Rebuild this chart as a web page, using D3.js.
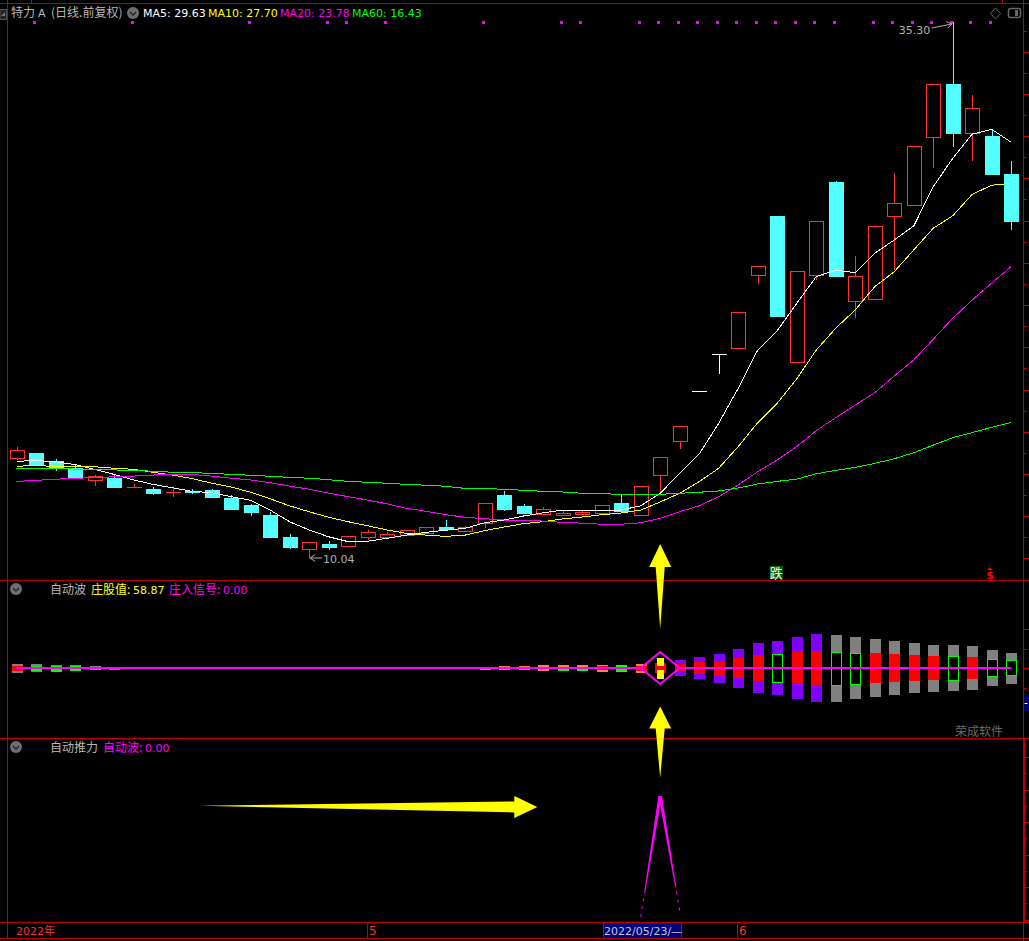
<!DOCTYPE html>
<html>
<head>
<meta charset="utf-8">
<style>
	html, body { margin: 0; padding: 0; background: #000; overflow: hidden; }
	text { font-family: "DejaVu Sans", "Noto Sans CJK SC", sans-serif; font-size: 11px; }
	.cjk { font-family: "Noto Sans CJK SC", sans-serif; font-size: 12px; }
</style>
<script src="https://cdn.jsdelivr.net/npm/d3@7"></script>
</head>
<body>
<div id="chart"></div>
<script>
// candles, index 0 = first trading day shown
const opens = [14.77,14.99,14.61,14.28,13.72,13.81,13.37,13.29,13.16,13.21,13.24,12.87,12.54,12.07,11.03,10.48,10.70,10.62,11.03,11.04,11.14,11.20,11.49,11.33,11.70,13.01,12.49,12.13,12.07,12.11,12.17,12.63,12.08,13.97,15.54,17.91,19.64,19.95,23.39,26.16,19.26,23.39,27.76,22.17,22.26,26.17,26.69,29.90,32.38,30.08,29.93,28.14]
const closes = [15.13,14.47,14.28,13.86,13.90,13.39,13.37,13.10,13.16,13.15,12.91,12.35,12.21,11.03,10.56,10.78,10.56,11.06,11.25,11.16,11.35,11.49,11.41,11.49,12.62,12.35,12.16,12.34,12.16,12.21,12.52,12.27,13.42,14.79,16.25,17.91,19.64,21.62,23.79,21.46,23.55,25.91,23.33,23.32,25.67,26.76,29.44,32.37,30.07,31.23,28.14,25.92]
const highs = [15.27,14.99,14.71,14.47,13.95,14.00,13.53,13.39,13.37,13.29,13.29,13.01,12.59,12.21,11.17,10.78,10.84,11.06,11.37,11.27,11.35,11.49,11.83,11.55,12.62,13.20,12.59,12.44,12.26,12.30,12.52,13.01,13.42,14.79,16.25,17.91,19.64,21.62,23.79,26.16,23.55,25.91,27.81,24.27,25.67,28.18,29.44,32.37,35.30,31.86,30.26,28.75]
const lows = [14.66,14.42,14.14,13.86,13.43,13.34,13.37,13.01,12.91,13.06,12.87,12.30,12.02,11.03,10.46,10.04,10.42,10.62,10.89,11.04,11.14,11.20,11.41,11.28,11.45,12.26,12.16,12.07,12.02,12.11,12.17,12.21,12.08,13.16,15.19,17.91,18.73,19.95,22.95,21.46,19.26,23.14,23.33,21.37,22.26,23.61,26.69,28.43,29.41,28.75,28.14,25.50]
// limit-up days where open = close, drawn white
const limitUpDays = [35, 36]

const ma5 = [14.60,14.63,14.58,14.44,14.22,13.98,13.72,13.51,13.35,13.18,13.12,12.93,12.76,12.30,11.75,11.36,11.04,10.81,10.83,10.97,11.12,11.25,11.35,11.44,11.70,11.83,12.02,12.17,12.30,12.29,12.29,12.30,12.50,13.09,14.03,14.94,16.39,18.04,19.84,20.75,22.04,23.30,23.60,23.49,24.40,25.03,25.69,27.54,28.88,30.02,30.24,29.63]
const ma10 = [14.36,14.41,14.34,14.34,14.34,14.27,14.22,14.08,13.95,13.78,13.57,13.39,13.14,12.83,12.50,12.22,11.96,11.75,11.56,11.36,11.20,11.12,11.06,11.12,11.33,11.50,11.66,11.75,11.88,11.97,12.08,12.16,12.30,12.68,13.09,13.64,14.27,15.29,16.42,17.33,18.48,19.84,20.87,21.73,22.83,23.53,24.56,25.58,26.17,27.18,27.61,27.70]
const ma20 = [13.65,13.70,13.75,13.80,13.82,13.87,13.90,13.95,13.97,13.98,13.90,13.80,13.72,13.59,13.43,13.28,13.10,12.93,12.77,12.59,12.38,12.24,12.08,11.96,11.89,11.83,11.82,11.78,11.72,11.68,11.63,11.63,11.70,11.91,12.22,12.50,12.93,13.48,14.11,14.66,15.29,16.04,16.65,17.25,17.83,18.62,19.37,20.35,21.34,22.20,23.00,23.78]
const ma60 = [14.27,14.28,14.27,14.23,14.22,14.19,14.17,14.13,14.08,14.06,14.03,13.98,13.94,13.89,13.84,13.80,13.73,13.65,13.61,13.56,13.51,13.47,13.42,13.32,13.31,13.28,13.23,13.18,13.15,13.09,13.07,13.04,13.01,13.04,13.09,13.14,13.20,13.34,13.53,13.65,13.76,14.01,14.17,14.31,14.50,14.72,15.00,15.36,15.71,15.95,16.20,16.43]

const topMarks = [1,6,12,16,17,19,24,28,29,32,33,34,35,36,37,38,39,40,41,42,44,45,46,47,48,49,50]

// middle panel: mirrored bars around zero
const waveOuter = [4.5,4,3.5,3,2,1.5,0,0,0,0,0,0,0,0,0,0,0,0,0,0,0,0,0,0,1.5,2,2,3,3,3,3.5,3.5,4.5,10.5,8,11,14.5,19.5,25,27,31,34,33.5,31,29,27,25,23.5,23,22,18,15.5]
const waveInner = [2.5,2,2.5,2,1,0,0,0,0,0,0,0,0,0,0,0,0,0,0,0,0,0,0,0,0,0,1,0,1.5,1.5,2,2,2.5,5,4,6,7.3,10,13,13.8,16,17.5,16.5,15.5,15,14,13,12,11.8,11,8.7,7.7]
const orangeBars = [24,25,26,27,28,29,30,31,32]
const yellowBars = [33]
const purpleBars = [34,35,36,37,38,39,40,41]
const hollowInner = [1,2,3,4,26,28,29,31,39,42,43,48,50,51]
const waveSignal = [0,0,0,0,0,0,0,0,0,0,0,0,0,0,0,0,0,0,0,0,0,0,0,0,0,0,0,0,0,0,0,0,0,16,0,0,0,0,0,0,0,0,0,0,0,0,0,0,0,0,0,0]

// bottom panel
const pushValues = [0,0,0,0,0,0,0,0,0,0,0,0,0,0,0,0,0,0,0,0,0,0,0,0,0,0,0,0,0,0,0,0,4,190,14,0,0,0,0,0,0,0,0,0,0,0,0,0,0,0,0,0]

const monthTicks = [{ i: 18, label: "5" }, { i: 37, label: "6" }]
const firstLabel = "2022年"
const dateLabel = "2022/05/23/—"
const dateIndex = 33
const zhuangValue = 58.87
const signalValue = 0.00

const width = 1029
const height = 941
const frameRed = "#c00000"
const candleRed = "#ff3232"
const candleCyan = "#54ffff"
const magenta = "#ff00ff"
const f2 = d3.format(".2f")

const panels = { left: 7.5, right: 1023.5, top: 3.5, main: 580.5, wave: 738.5, push: 922.5, bottom: 938.5 }

const svg = d3.select("#chart").append("svg")
	.attr("width", width)
	.attr("height", height)
	.style("display", "block")
	.style("background", "#000")

const x = d3.scaleLinear().domain([0, 51]).range([16.5, 1011.3])
const y = d3.scaleLinear().domain([10.04, 35.3]).range([558, 22])
const waveY = d3.scaleLinear().domain([-70, 70]).range([738, 598])
const pushY = d3.scaleLinear().domain([0, 250]).range([919.5, 757])

const px = (v) => Math.round(v) + 0.5

// ---- frame
const frame = svg.append("g").attr("stroke", frameRed).attr("stroke-width", 1).attr("shape-rendering", "crispEdges")
;[panels.top, panels.main, panels.wave, panels.push, panels.bottom].forEach((v) => {
	frame.append("line").attr("x1", 0).attr("x2", width).attr("y1", v).attr("y2", v)
})
frame.append("line").attr("x1", panels.left).attr("x2", panels.left).attr("y1", 0).attr("y2", panels.bottom)
frame.append("line").attr("x1", panels.right).attr("x2", panels.right).attr("y1", 0).attr("y2", height)
frame.append("line").attr("x1", panels.right + 1).attr("x2", panels.right + 1).attr("y1", panels.wave).attr("y2", panels.push)
frame.append("line").attr("x1", 31.5).attr("x2", 31.5).attr("y1", 0).attr("y2", panels.top)
frame.append("line").attr("x1", 1002.5).attr("x2", 1002.5).attr("y1", 0).attr("y2", panels.top)

// right side ticks, no labels in this crop
function rightTicks(scale, majors, minors) {
	const draw = (values, size) => {
		const g = svg.append("g")
			.attr("transform", `translate(${panels.right},0)`)
			.call(d3.axisRight(scale).tickValues(values).tickSize(size).tickFormat(""))
		g.select(".domain").remove()
		g.selectAll("line").attr("stroke", frameRed).attr("shape-rendering", "crispEdges")
	}
	draw(majors, 6)
	draw(minors, 3)
}
const priceMajor = d3.range(13).map((i) => 10.02 + i * 1.99)
rightTicks(y, priceMajor, priceMajor.map((d) => d + 0.995))
rightTicks(waveY, [39, 0, -39], [19.5, -19.5])
rightTicks(pushY, [0, 50, 100, 150, 200, 250], [25, 75, 125, 175, 225])

// ---- candles
const candles = svg.append("g").attr("shape-rendering", "crispEdges")
opens.forEach((open, i) => {
	const close = closes[i]
	const cx = Math.round(x(i))
	let color = close >= open ? candleRed : candleCyan
	if (limitUpDays.includes(i)) color = "#ffffff"
	candles.append("line")
		.attr("x1", cx + 0.5).attr("x2", cx + 0.5)
		.attr("y1", y(highs[i])).attr("y2", y(lows[i]))
		.attr("stroke", color)
	const top = px(y(Math.max(open, close)))
	const bottom = px(y(Math.min(open, close)))
	if (open === close) {
		candles.append("line")
			.attr("x1", cx - 7).attr("x2", cx + 8)
			.attr("y1", top).attr("y2", top)
			.attr("stroke", color)
	} else if (close > open) {
		candles.append("rect")
			.attr("x", cx - 6.5).attr("y", top)
			.attr("width", 14).attr("height", bottom - top)
			.attr("fill", "#000").attr("stroke", color)
	} else {
		candles.append("rect")
			.attr("x", cx - 7).attr("y", top - 0.5)
			.attr("width", 15).attr("height", bottom - top + 1)
			.attr("fill", color)
	}
})

// ---- moving averages
const maLine = d3.line().x((d, i) => x(i)).y((d) => y(d))
const maSeries = [
	{ name: "MA5", values: ma5, color: "#ffffff" },
	{ name: "MA10", values: ma10, color: "#ffff00" },
	{ name: "MA20", values: ma20, color: magenta },
	{ name: "MA60", values: ma60, color: "#00ff00" },
]
maSeries.forEach((s) => {
	svg.append("path")
		.attr("d", maLine(s.values))
		.attr("fill", "none")
		.attr("stroke", s.color)
		.attr("stroke-width", 1)
		.attr("shape-rendering", "crispEdges")
})

// ---- marks along the top of the price panel
svg.append("g").selectAll("rect").data(topMarks).join("rect")
	.attr("x", (d) => Math.round(x(d)) - 3)
	.attr("y", 21)
	.attr("width", 3)
	.attr("height", 3)
	.attr("fill", magenta)

// ---- high / low notes
const noteColor = "#b0b0b0"
const noteArrow = (x1, y1, x2, y2) => {
	const a = Math.atan2(y2 - y1, x2 - x1)
	const h = 6
	const head = (sign) => [x2 - h * Math.cos(a + sign * 0.6), y2 - h * Math.sin(a + sign * 0.6)]
	const g = svg.append("g").attr("stroke", noteColor).attr("fill", "none")
	g.append("path").attr("d", d3.line()([[x1, y1], [x2, y2]]))
	g.append("path").attr("d", d3.line()([head(1), [x2, y2], head(-1)]))
}
svg.append("text").attr("x", x(48) - 54).attr("y", y(35.3) + 12).attr("fill", noteColor).text(f2(35.3))
noteArrow(x(48) - 21, y(35.3) + 6, x(48) - 1, y(35.3) + 2)
noteArrow(x(15) + 13, y(10.04), x(15) + 1, y(10.04))
svg.append("text").attr("x", x(15) + 14).attr("y", y(10.04) + 5).attr("fill", noteColor).text(f2(10.04))

// ---- middle panel bars
const waves = svg.append("g").attr("shape-rendering", "crispEdges")
const outerColor = (i) => {
	if (orangeBars.includes(i)) return "#ff8040"
	if (yellowBars.includes(i)) return "#ffff00"
	if (purpleBars.includes(i)) return "#8000ff"
	return "#808080"
}
waveOuter.forEach((v, i) => {
	if (v === 0) return
	const cx = Math.round(x(i))
	const isYellow = yellowBars.includes(i)
	const inner = waveInner[i]
	// the yellow bar sits on top of its red bar, with a thin red band left across it
	if (isYellow) {
		waves.append("rect")
			.attr("x", cx - 5).attr("y", waveY(inner))
			.attr("width", 11).attr("height", waveY(-inner) - waveY(inner))
			.attr("fill", "#ff0000")
	}
	const w = isYellow ? 7 : 11
	waves.append("rect")
		.attr("x", cx + 0.5 - w / 2)
		.attr("y", waveY(v))
		.attr("width", w)
		.attr("height", waveY(-v) - waveY(v))
		.attr("fill", outerColor(i))
	if (inner === 0) return
	const shown = isYellow ? inner * 0.4 : inner
	const r = waves.append("rect")
		.attr("x", cx - 5)
		.attr("y", px(waveY(shown)))
		.attr("width", 11)
		.attr("height", Math.round(waveY(-shown) - waveY(shown)))
	if (hollowInner.includes(i)) {
		r.attr("width", 10).attr("fill", inner > 3 ? "#000" : "#00ff00").attr("stroke", "#00ff00")
	} else {
		r.attr("x", cx - 5).attr("y", waveY(shown)).attr("fill", "#ff0000")
	}
})
const signalLine = (sign) => d3.line().x((d, i) => x(i)).y((d) => waveY(sign * d))(waveSignal)
;[1, -1].forEach((sign) => {
	svg.append("path")
		.attr("d", signalLine(sign))
		.attr("fill", "none")
		.attr("stroke", magenta)
		.attr("stroke-width", 2)
})

// ---- bottom panel peak, drawn thinning toward its base
const pushPoints = pushValues.map((v, i) => ({ i, v })).filter((d) => d.v > 0)
const peak = pushPoints.find((d) => d.v === d3.max(pushValues))
pushPoints.filter((d) => d !== peak).forEach((base) => {
	const bx = x(base.i), by = pushY(base.v)
	const tx = x(peak.i), ty = pushY(peak.v)
	const at = (t) => [bx + (tx - bx) * t, by + (ty - by) * t]
	const startT = 0.2
	const wAt = (t) => 0.4 + t * 3.2
	const s = at(startT), e = at(1)
	svg.append("path")
		.attr("d", d3.line()([[s[0] - wAt(startT) / 2, s[1]], [e[0] - wAt(1) / 2, e[1]], [e[0] + wAt(1) / 2, e[1]], [s[0] + wAt(startT) / 2, s[1]]]) + "Z")
		.attr("fill", magenta)
	svg.append("line")
		.attr("x1", bx).attr("y1", by).attr("x2", s[0]).attr("y2", s[1])
		.attr("stroke", magenta)
		.attr("stroke-dasharray", "3,5")
})

// ---- yellow pointers
function pointer(tip, tail, headLen, headHalf, neckHalf) {
	const len = Math.hypot(tail[0] - tip[0], tail[1] - tip[1])
	const ux = (tail[0] - tip[0]) / len
	const uy = (tail[1] - tip[1]) / len
	const at = (along, side) => [tip[0] + ux * along - uy * side, tip[1] + uy * along + ux * side]
	svg.append("path")
		.attr("d", d3.line()([tip, at(headLen, headHalf), at(headLen, neckHalf), tail, at(headLen, -neckHalf), at(headLen, -headHalf)]) + "Z")
		.attr("fill", "#ffff00")
}
pointer([x(33), y(10.7)], [x(33), waveY(39)], 23, 11, 4.5)
pointer([x(33), waveY(-38.5)], [x(33), pushY(218)], 22, 11, 4.5)
pointer([x(26.7), pushY(173)], [x(9.4), pushY(175)], 23, 11, 5.5)

// ---- header texts
function circleButton(cx, cy) {
	svg.append("circle").attr("cx", cx).attr("cy", cy).attr("r", 6).attr("fill", "#6e6e6e")
	svg.append("path")
		.attr("d", d3.line()([[cx - 3, cy - 1], [cx, cy + 2], [cx + 3, cy - 1]]))
		.attr("fill", "none")
		.attr("stroke", "#222")
		.attr("stroke-width", 1.4)
}
function header(spans, baseline) {
	spans.forEach((s) => {
		svg.append("text")
			.attr("x", s.x)
			.attr("y", baseline)
			.attr("class", s.cjk ? "cjk" : null)
			.attr("fill", s.color)
			.text(s.text)
	})
}
const cnGray = "#b8b8b8"
header([
	{ x: 11, text: "特力", color: cnGray, cjk: true },
	{ x: 38, text: "A", color: cnGray },
	{ x: 51, text: "(日线.前复权)", color: cnGray, cjk: true },
], 17)
circleButton(133, 13)
let labelX = [143, 208, 280, 352]
header(maSeries.map((s, i) => ({
	x: labelX[i],
	text: `${s.name}: ${f2(s.values[51])}`,
	color: s.color,
})), 17)

circleButton(16, 589)
header([
	{ x: 50, text: "自动波", color: cnGray, cjk: true },
	{ x: 91, text: "庄股值:", color: "#ffff00", cjk: true },
	{ x: 133, text: f2(zhuangValue), color: "#ffff00" },
	{ x: 169, text: "庄入信号:", color: magenta, cjk: true },
	{ x: 223, text: f2(signalValue), color: magenta },
], 594)

circleButton(16, 747)
header([
	{ x: 50, text: "自动推力", color: cnGray, cjk: true },
	{ x: 103, text: "自动波:", color: magenta, cjk: true },
	{ x: 145, text: f2(waveSignal[51]), color: magenta },
], 752)

svg.append("text").attr("class", "cjk").attr("x", 955).attr("y", 736).attr("fill", "#6a6a6a").text("荣成软件")

// ---- small signals at the foot of the price panel
svg.append("rect").attr("x", x(39) - 7.5).attr("y", 566).attr("width", 13).attr("height", 13).attr("fill", "#006400")
svg.append("text").attr("class", "cjk").attr("x", x(39) - 7.5).attr("y", 577.5).attr("fill", "#fff").style("font-size", "13px").text("跌")
svg.append("text").attr("x", x(50) - 5.5).attr("y", 579).attr("fill", "#ff0000").attr("font-weight", "bold").style("font-size", "11px").text("$")
svg.append("path").attr("d", d3.line()([[x(50) - 4.5, 570], [x(50) - 2, 567], [x(50) + 0.5, 570]]) + "Z").attr("fill", "#ff0000")

// ---- date strip
const strip = svg.append("g")
strip.append("text").attr("x", 16).attr("y", 935).attr("fill", "#ff3232").text(firstLabel)
monthTicks.forEach((t) => {
	const tx = Math.round(x(t.i)) - 0.5
	strip.append("line")
		.attr("x1", tx).attr("x2", tx)
		.attr("y1", panels.push).attr("y2", panels.bottom)
		.attr("stroke", frameRed)
		.attr("shape-rendering", "crispEdges")
	strip.append("text").attr("x", tx + 1.5).attr("y", 935).attr("fill", "#ff3232").style("font-size", "12px").text(t.label)
})
strip.append("rect")
	.attr("x", px(x(dateIndex)) - 57)
	.attr("y", panels.push)
	.attr("width", 78)
	.attr("height", panels.bottom - panels.push)
	.attr("fill", "#000080")
	.attr("stroke", frameRed)
	.attr("shape-rendering", "crispEdges")
strip.append("text").attr("x", 604).attr("y", 935).attr("fill", "#c8c8c8").text(dateLabel)

// ---- window furniture
svg.append("rect").attr("x", panels.right + 1).attr("y", 696).attr("width", 5).attr("height", 15).attr("fill", "#000080")
svg.append("line").attr("x1", panels.right + 1).attr("x2", panels.right + 4).attr("y1", 703.5).attr("y2", 703.5).attr("stroke", "#fff")
svg.append("path").attr("d", d3.line()([[995.5, 8], [1000.5, 13.5], [995.5, 19], [990.5, 13.5]]) + "Z").attr("fill", "none").attr("stroke", "#666")
svg.append("rect").attr("x", 1008.5).attr("y", 8.5).attr("width", 12).attr("height", 9).attr("rx", 2).attr("fill", "none").attr("stroke", "#666").attr("stroke-width", 1.5)
svg.append("rect").attr("x", 1015).attr("y", 10).attr("width", 3).attr("height", 6).attr("fill", "#666")
svg.append("rect").attr("x", 0).attr("y", 9.5).attr("width", 6.5).attr("height", 10).attr("fill", "#222").attr("stroke", "#555")
svg.append("path").attr("d", d3.line()([[1, 16], [5, 12], [5, 16]]) + "Z").attr("fill", "#777")
</script>
</body>
</html>
